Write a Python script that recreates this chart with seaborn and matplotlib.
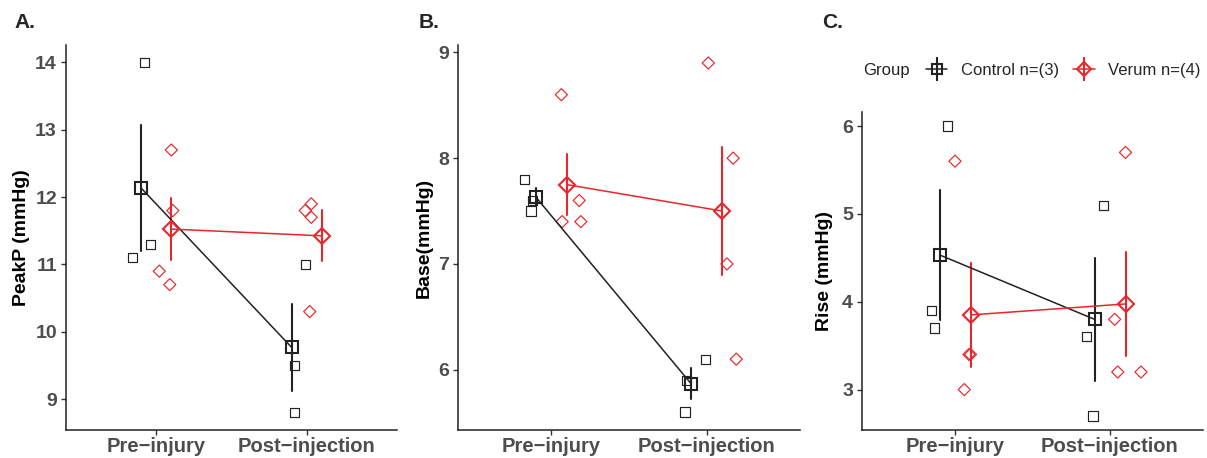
import numpy as np
import pandas as pd
import matplotlib
matplotlib.use("Agg")
import matplotlib.pyplot as plt
import seaborn as sns
from matplotlib.lines import Line2D
from matplotlib.legend_handler import HandlerTuple

# ---------------- data ----------------
timepoints = ["Pre\u2212injury", "Post\u2212injection"]
groups = ["Control n=(3)", "Verum n=(4)"]
legend_title = "Group"
panel_labels = ["A.", "B.", "C."]
ylabels = ["PeakP (mmHg)", "Base(mmHg)", "Rise (mmHg)"]
yticks_a = [9, 10, 11, 12, 13, 14]
yticks_b = [6, 7, 8, 9]
yticks_c = [3, 4, 5, 6]

peakp_control_pre = [14.0, 11.3, 11.1]
peakp_control_post = [11.0, 9.5, 8.8]
peakp_verum_pre = [12.7, 11.8, 10.9, 10.7]
peakp_verum_post = [11.9, 11.8, 11.7, 10.3]

base_control_pre = [7.8, 7.6, 7.5]
base_control_post = [6.1, 5.9, 5.6]
base_verum_pre = [8.6, 7.6, 7.4, 7.4]
base_verum_post = [8.9, 8.0, 7.0, 6.1]

rise_control_pre = [6.0, 3.9, 3.7]
rise_control_post = [5.1, 3.6, 2.7]
rise_verum_pre = [5.6, 3.4, 3.4, 3.0]
rise_verum_post = [5.7, 3.8, 3.2, 3.2]

# horizontal jitter of individual points (offset from category centre)
jit_a_control_pre = [-0.08, -0.04, -0.16]
jit_a_control_post = [-0.01, -0.08, -0.08]
jit_a_verum_pre = [0.10, 0.11, 0.02, 0.09]
jit_a_verum_post = [0.03, -0.01, 0.03, 0.02]

jit_b_control_pre = [-0.17, -0.12, -0.13]
jit_b_control_post = [-0.01, -0.13, -0.14]
jit_b_verum_pre = [0.065, 0.18, 0.07, 0.19]
jit_b_verum_post = [0.01, 0.17, 0.13, 0.19]

jit_c_control_pre = [-0.05, -0.15, -0.13]
jit_c_control_post = [-0.04, -0.15, -0.11]
jit_c_verum_pre = [0.0, 0.09, 0.10, 0.06]
jit_c_verum_post = [0.10, 0.03, 0.05, 0.20]


def make_df(cpre, cpost, vpre, vpost, jcpre, jcpost, jvpre, jvpost):
    rows = []
    for g, t, vals, jit in [
        (groups[0], timepoints[0], cpre, jcpre),
        (groups[0], timepoints[1], cpost, jcpost),
        (groups[1], timepoints[0], vpre, jvpre),
        (groups[1], timepoints[1], vpost, jvpost),
    ]:
        for v, j in zip(vals, jit):
            rows.append({"group": g, "time": t, "value": v,
                         "xpos": timepoints.index(t) + j})
    return pd.DataFrame(rows)


df_a = make_df(peakp_control_pre, peakp_control_post, peakp_verum_pre, peakp_verum_post,
               jit_a_control_pre, jit_a_control_post, jit_a_verum_pre, jit_a_verum_post)
df_b = make_df(base_control_pre, base_control_post, base_verum_pre, base_verum_post,
               jit_b_control_pre, jit_b_control_post, jit_b_verum_pre, jit_b_verum_post)
df_c = make_df(rise_control_pre, rise_control_post, rise_verum_pre, rise_verum_post,
               jit_c_control_pre, jit_c_control_post, jit_c_verum_pre, jit_c_verum_post)

# ---------------- style ----------------
sns.set_theme(style="ticks")
plt.rcParams["font.family"] = ["Liberation Sans", "DejaVu Sans"]
plt.rcParams["axes.linewidth"] = 1.1
plt.rcParams["axes.edgecolor"] = "#222222"

colors = {groups[0]: "#222222", groups[1]: "#e8262b"}
markers = {groups[0]: "s", groups[1]: "D"}
small_size = {groups[0]: 44, groups[1]: 38}
mean_size = {groups[0]: 9.0, groups[1]: 8.4}

W, H = 1207, 458
fig = plt.figure(figsize=(W / 100, H / 100), dpi=100)

panels = [
    (df_a, [66, 45, 397, 430], (8.54, 14.26), yticks_a, -0.109),
    (df_b, [458, 45, 800, 430], (5.43, 9.07), yticks_b, -0.073),
    (df_c, [862, 112, 1203, 430], (2.54, 6.16), yticks_c, -0.085),
]
label_px = [(14, 23), (419, 23), (822, 23)]

for i, (df, (l, t, r, b), ylim, yticks, ylab_x) in enumerate(panels):
    ax = fig.add_axes([l / W, 1 - b / H, (r - l) / W, (b - t) / H])
    for g in groups:
        sub = df[df["group"] == g]
        sns.scatterplot(data=sub, x="xpos", y="value", marker=markers[g],
                        s=small_size[g], color=colors[g], facecolor="none",
                        edgecolor=colors[g], linewidth=0.85, ax=ax, zorder=2,
                        legend=False)
    sns.pointplot(data=df, x="time", y="value", hue="group", order=timepoints,
                  hue_order=groups, palette=colors, markers=["s", "D"],
                  linestyles=["-", "-"], dodge=0.2, errorbar="se",
                  err_kws={"linewidth": 1.5}, linewidth=1.1, markersize=8.5,
                  markeredgewidth=1.5, markerfacecolor="none", legend=False,
                  ax=ax)
    for ln in ax.lines:
        if ln.get_marker() in ("s", "D"):
            ln.set_markerfacecolor("none")
            ln.set_zorder(3)
            for g in groups:
                if ln.get_marker() == markers[g]:
                    ln.set_markersize(mean_size[g])
    ax.set_xlim(-0.6, 1.6)
    ax.set_ylim(*ylim)
    ax.set_yticks(yticks)
    ax.set_xticks([0, 1])
    ax.set_xticklabels(timepoints)
    ax.set_xlabel("")
    ax.set_ylabel(ylabels[i], fontsize=14, fontweight="bold", color="black")
    ax.yaxis.set_label_coords(ylab_x, 0.5)
    ax.tick_params(axis="y", labelsize=14, pad=3)
    ax.tick_params(axis="x", labelsize=14.5, pad=1.5)
    ax.tick_params(axis="both", length=3.5, width=1.0, color="#333333",
                   labelcolor="#4d4d4d")
    for lab in ax.get_xticklabels() + ax.get_yticklabels():
        lab.set_fontweight("bold")
    sns.despine(ax=ax)
    fig.text(label_px[i][0] / W, 1 - label_px[i][1] / H, panel_labels[i],
             fontsize=15, fontweight="bold", va="center", ha="left")

    if i == 2:
        handles = []
        for g in groups:
            h1 = Line2D([], [], color=colors[g], lw=1.1, marker=markers[g],
                        mfc="none", ms=mean_size[g] * 0.85, mew=1.5)
            h2 = Line2D([], [], color=colors[g], marker="|", ms=17, mew=1.5,
                        linestyle="none")
            handles.append((h1, h2))
        fig.text(863 / W, 1 - 70 / H, legend_title, fontsize=12,
                 va="center", ha="left", color="#222222")
        fig.legend(handles, groups, handler_map={tuple: HandlerTuple(ndivide=1)},
                   loc="center left", bbox_to_anchor=(914 / W, 1 - 70 / H),
                   ncol=2, frameon=False, fontsize=12, handlelength=1.3,
                   handletextpad=0.8, columnspacing=0.85, borderpad=0.2)

fig.savefig("out.png", dpi=100)
